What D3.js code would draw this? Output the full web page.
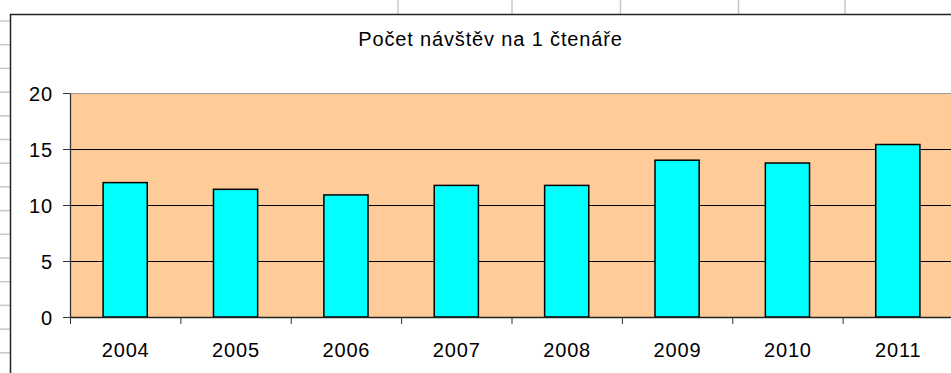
<!DOCTYPE html>
<html>
<head>
<meta charset="utf-8">
<script src="https://cdn.jsdelivr.net/npm/d3@7"></script>
<style>
  html, body { margin: 0; padding: 0; background: #fff; }
  svg { display: block; }
  text { font-family: "Liberation Sans", Arial, Helvetica, sans-serif; fill: #000; letter-spacing: 0.85px; }
</style>
</head>
<body>
<script>
// Chart data
const title = "Počet návštěv na 1 čtenáře";
const years = ["2004", "2005", "2006", "2007", "2008", "2009", "2010", "2011"];
const visits = [12.0, 11.4, 10.9, 11.75, 11.75, 14.0, 13.75, 15.4];
const yTicks = [0, 5, 10, 15, 20];

const W = 951, H = 373;
const FONT = "20px";
const svg = d3.select("body").append("svg").attr("width", W).attr("height", H);

// Spreadsheet cell grid peeking out around the embedded chart
const grid = svg.append("g").attr("stroke", "#c8c8c8").attr("stroke-width", 1.5);
d3.range(21, H, 23.7).forEach(y => {
  grid.append("line").attr("x1", 0).attr("x2", 10).attr("y1", y).attr("y2", y);
});
[398, 512, 620.5, 738.5, 845].forEach(x => {
  grid.append("line").attr("x1", x).attr("x2", x).attr("y1", 0).attr("y2", 14);
});

// Chart area frame
svg.append("rect")
  .attr("x", 10.5).attr("y", 14.5).attr("width", W + 20).attr("height", H + 20)
  .attr("fill", "#fff").attr("stroke", "#222").attr("stroke-width", 1.5);

svg.append("text")
  .attr("x", 490.5).attr("y", 46)
  .attr("text-anchor", "middle")
  .style("font-size", FONT)
  .text(title);

// Plot area
const plot = { left: 70, top: 93, right: 953, bottom: 317 };

const y = d3.scaleLinear().domain([0, 20]).range([plot.bottom, plot.top]);
const x = d3.scaleBand().domain(years).range([plot.left, plot.right])
  .paddingInner(0.6).paddingOuter(0.3);
const xEdge = d3.scaleLinear().domain([0, years.length]).range([plot.left, plot.right]);

svg.append("rect")
  .attr("x", plot.left).attr("y", plot.top)
  .attr("width", plot.right - plot.left).attr("height", plot.bottom - plot.top)
  .attr("fill", "#FFCC99");
svg.append("line")
  .attr("x1", plot.left).attr("x2", plot.right)
  .attr("y1", plot.top + 0.5).attr("y2", plot.top + 0.5)
  .attr("stroke", "#9a9a9a").attr("stroke-width", 1.2);

// Horizontal gridlines
svg.append("g").selectAll("line")
  .data(yTicks.filter(d => d > 0 && d < 20))
  .join("line")
  .attr("x1", plot.left).attr("x2", plot.right)
  .attr("y1", d => Math.round(y(d)) + 0.5).attr("y2", d => Math.round(y(d)) + 0.5)
  .attr("stroke", "#000").attr("stroke-width", 1);

// Bars
svg.append("g").selectAll("rect")
  .data(years.map((yr, i) => ({ yr, v: visits[i] })))
  .join("rect")
  .attr("x", d => x(d.yr))
  .attr("y", d => y(d.v))
  .attr("width", x.bandwidth())
  .attr("height", d => y(0) - y(d.v))
  .attr("fill", "#00FFFF")
  .attr("stroke", "#000").attr("stroke-width", 1.5);

// Y axis
const yAxis = svg.append("g")
  .attr("transform", `translate(${plot.left},0)`)
  .call(d3.axisLeft(y).tickValues(yTicks).tickSize(7).tickPadding(10).tickSizeOuter(0));
yAxis.select(".domain").attr("stroke", "#333").attr("stroke-width", 1.3);
yAxis.selectAll(".tick line").attr("stroke", "#333");
yAxis.selectAll("text").style("font-size", FONT).attr("dy", "0.36em");

// X axis: category-boundary ticks
const xTickAxis = svg.append("g")
  .attr("transform", `translate(0,${plot.bottom})`)
  .call(d3.axisBottom(xEdge).tickValues(d3.range(years.length + 1))
    .tickFormat("").tickSize(7).tickSizeOuter(0));
xTickAxis.select(".domain").attr("stroke", "#222").attr("stroke-width", 1.3);
xTickAxis.selectAll(".tick line").attr("stroke", "#333");

// X axis: category labels
const xLabelAxis = svg.append("g")
  .attr("transform", `translate(0,${plot.bottom})`)
  .call(d3.axisBottom(x).tickSize(0).tickPadding(26));
xLabelAxis.select(".domain").remove();
xLabelAxis.selectAll("text").style("font-size", FONT).attr("dx", "0.45");
</script>
</body>
</html>
